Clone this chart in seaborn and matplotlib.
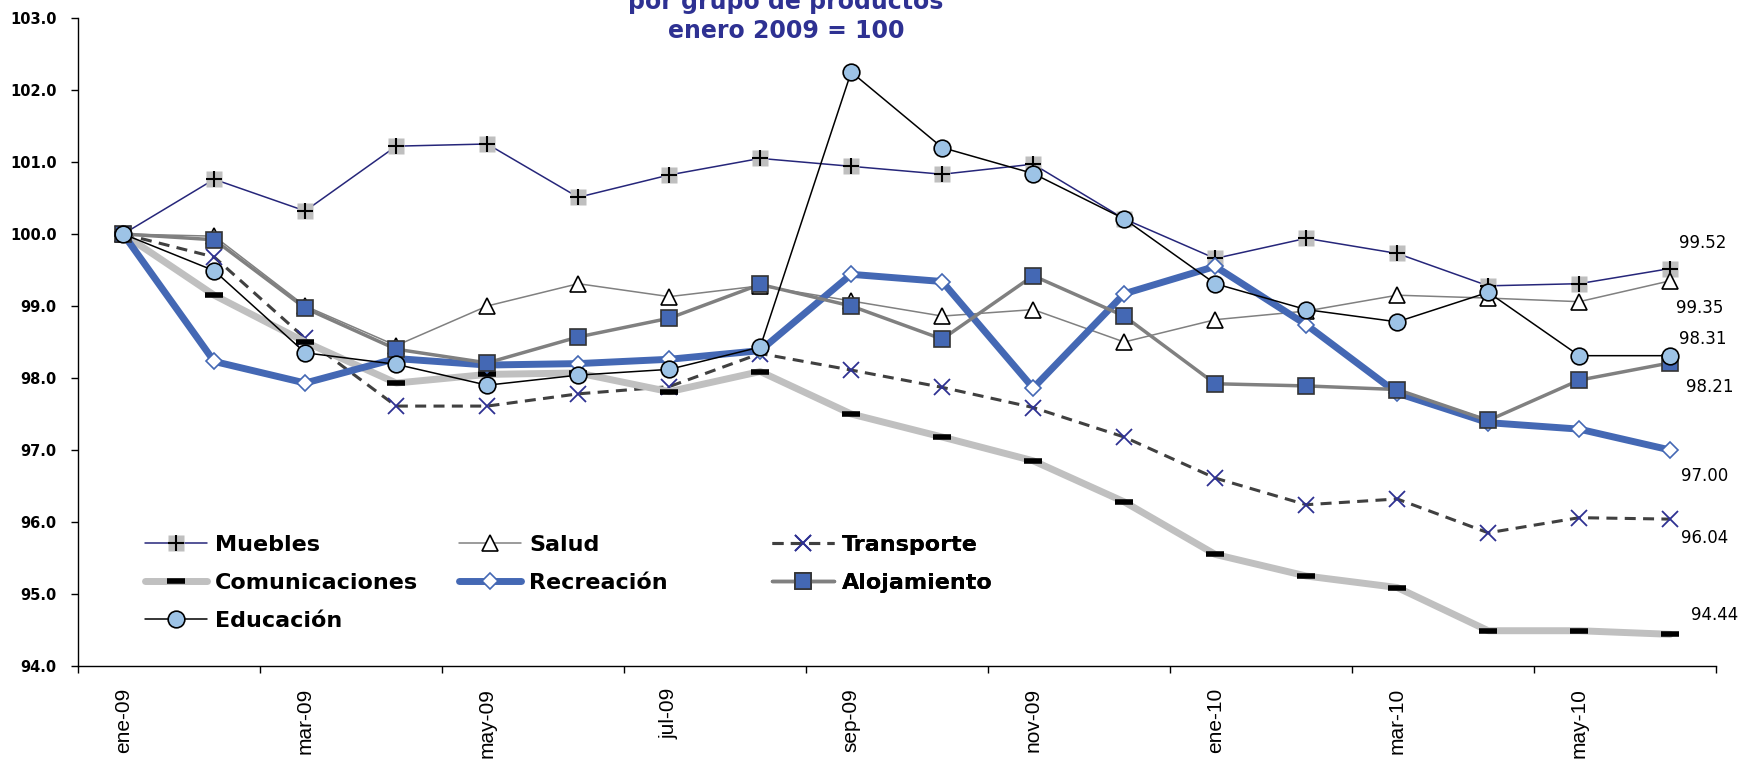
import matplotlib
matplotlib.use("Agg")
import matplotlib.pyplot as plt
import seaborn as sns
import numpy as np
from matplotlib.lines import Line2D
from matplotlib.legend_handler import HandlerTuple
from matplotlib.ticker import FormatStrFormatter

# datos: índice enero 2009 = 100
meses = ["ene-09", "feb-09", "mar-09", "abr-09", "may-09", "jun-09", "jul-09", "ago-09", "sep-09",
         "oct-09", "nov-09", "dic-09", "ene-10", "feb-10", "mar-10", "abr-10", "may-10", "jun-10"]

muebles = [100.00, 100.76, 100.32, 101.22, 101.25, 100.51, 100.82, 101.05, 100.94,
           100.83, 100.97, 100.21, 99.66, 99.94, 99.73, 99.28, 99.31, 99.52]
salud = [100.00, 99.97, 99.00, 98.45, 99.00, 99.31, 99.13, 99.28, 99.07,
         98.86, 98.95, 98.50, 98.81, 98.93, 99.15, 99.11, 99.06, 99.35]
transporte = [100.00, 99.68, 98.55, 97.61, 97.61, 97.78, 97.88, 98.34, 98.11,
              97.87, 97.59, 97.18, 96.61, 96.24, 96.32, 95.85, 96.06, 96.04]
comunicaciones = [100.00, 99.15, 98.50, 97.93, 98.05, 98.07, 97.81, 98.09, 97.50,
                  97.18, 96.85, 96.28, 95.55, 95.25, 95.09, 94.49, 94.49, 94.44]
recreacion = [100.00, 98.23, 97.93, 98.27, 98.18, 98.20, 98.26, 98.38, 99.44,
              99.34, 97.86, 99.17, 99.55, 98.74, 97.79, 97.38, 97.29, 97.00]
alojamiento = [100.00, 99.92, 98.97, 98.40, 98.21, 98.57, 98.83, 99.30, 99.00,
               98.54, 99.42, 98.86, 97.92, 97.89, 97.84, 97.41, 97.97, 98.21]
educacion = [100.00, 99.49, 98.35, 98.19, 97.90, 98.04, 98.12, 98.43, 102.25,
             101.20, 100.84, 100.21, 99.31, 98.95, 98.78, 99.19, 98.31, 98.31]

W, H = 1748, 764
sns.set_theme(style="white")
plt.rcParams["font.family"] = ["DejaVu Sans"]
plt.rcParams["text.color"] = "black"
plt.rcParams["xtick.color"] = "black"
plt.rcParams["ytick.color"] = "black"

NAVY = "#26267A"
BLUE = "#4468B4"
TITLE_BLUE = "#2E3192"

fig = plt.figure(figsize=(W / 100, H / 100), dpi=100)
ax = fig.add_axes([77.7 / W, 1 - 666 / H, (1715.7 - 77.7) / W, (666 - 18) / H])

pos = np.arange(len(meses))

# Muebles: cuadro gris con cruz negra encima
sns.lineplot(x=pos, y=muebles, ax=ax, color=NAVY, lw=1.1, marker="s", markersize=12,
             markerfacecolor="#BFBFBF", markeredgecolor="none")
sns.lineplot(x=pos, y=muebles, ax=ax, color="black", linestyle="", marker="+",
             markersize=11, markeredgecolor="black", markeredgewidth=1.5)
sns.lineplot(x=pos, y=salud, ax=ax, color="#808080", lw=1.1, marker="^", markersize=11,
             markerfacecolor="white", markeredgecolor="black", markeredgewidth=1.2)
sns.lineplot(x=pos, y=transporte, ax=ax, color="#404040", lw=2.2, linestyle=(0, (3.6, 2.4)),
             marker="x", markersize=11, markeredgecolor=TITLE_BLUE, markeredgewidth=1.3)
sns.lineplot(x=pos, y=comunicaciones, ax=ax, color="#C0C0C0", lw=5, marker="_", markersize=13,
             markeredgecolor="black", markeredgewidth=4)
sns.lineplot(x=pos, y=recreacion, ax=ax, color=BLUE, lw=5, marker="D", markersize=8.5,
             markerfacecolor="white", markeredgecolor=BLUE, markeredgewidth=1.2)
sns.lineplot(x=pos, y=alojamiento, ax=ax, color="#808080", lw=2.5, marker="s", markersize=12,
             markerfacecolor=BLUE, markeredgecolor="#333333", markeredgewidth=1.2)
sns.lineplot(x=pos, y=educacion, ax=ax, color="black", lw=1.1, marker="o", markersize=12,
             markerfacecolor="#9DC3E6", markeredgecolor="black", markeredgewidth=1.2)

# etiquetas del último valor (desplazamiento en píxeles)
finales = [(muebles, (9, 26)), (salud, (6, -27)), (educacion, (9, 17)), (alojamiento, (16, -24)),
           (recreacion, (11, -26)), (transporte, (11, -19)), (comunicaciones, (21, 19))]
for serie, off in finales:
    ax.annotate(f"{serie[-1]:.2f}", xy=(pos[-1], serie[-1]), xytext=off, textcoords="offset pixels",
                ha="left", va="center", fontsize=12, color="black")

ax.set_xlim(-0.5, len(meses) - 0.5)
ax.set_ylim(94, 103)
ax.set_xlabel("")
ax.set_ylabel("")
ax.set_yticks(np.arange(94, 104, 1))
ax.yaxis.set_major_formatter(FormatStrFormatter("%.1f"))
ax.tick_params(axis="y", length=5, width=1, pad=10, labelsize=10.5, left=True,
               color="black", labelcolor="black")
for t in ax.get_yticklabels():
    t.set_fontweight("bold")

ax.set_xticks(pos[::2])
ax.set_xticklabels(meses[::2], rotation=90, fontsize=15, family="Liberation Sans")
ax.set_xticks(np.arange(-0.5, len(meses), 2), minor=True)
ax.tick_params(axis="x", which="major", length=0, pad=16, labelcolor="black")
ax.tick_params(axis="x", which="minor", length=5, width=1, bottom=True, color="black")

for s in ["top", "right"]:
    ax.spines[s].set_visible(False)
for s in ["left", "bottom"]:
    ax.spines[s].set_color("black")
    ax.spines[s].set_linewidth(1.0)
ax.grid(False)

# leyenda en tres columnas
h_muebles = (Line2D([], [], color=NAVY, lw=1.1, marker="s", ms=12, mfc="#BFBFBF", mec="none"),
             Line2D([], [], ls="none", marker="+", ms=11, mew=1.5, color="black"))
h_salud = Line2D([], [], color="#808080", lw=1.1, marker="^", ms=11, mfc="white", mec="black", mew=1.2)
h_transp = Line2D([], [], color="#404040", lw=2.2, ls=(0, (3.6, 2.4)), marker="x", ms=11,
                  mec=TITLE_BLUE, mew=1.3)
h_comun = Line2D([], [], color="#C0C0C0", lw=5, marker="_", ms=13, mec="black", mew=4)
h_recre = Line2D([], [], color=BLUE, lw=5, marker="D", ms=8.5, mfc="white", mec=BLUE, mew=1.2)
h_aloja = Line2D([], [], color="#808080", lw=2.5, marker="s", ms=12, mfc=BLUE, mec="#333333", mew=1.2)
h_educ = Line2D([], [], color="black", lw=1.1, marker="o", ms=12, mfc="#9DC3E6", mec="black", mew=1.2)

columnas = [([h_muebles, h_comun, h_educ], ["Muebles", "Comunicaciones", "Educación"], 145),
            ([h_salud, h_recre], ["Salud", "Recreación"], 459),
            ([h_transp, h_aloja], ["Transporte", "Alojamiento"], 772)]
for handles, labels, x0 in columnas:
    leg = ax.legend(handles, labels, loc="upper left", bbox_to_anchor=(x0 / W, 1 - 535 / H),
                    bbox_transform=fig.transFigure, frameon=False, borderpad=0, borderaxespad=0,
                    handlelength=2.8, handletextpad=0.36, labelspacing=0.8,
                    prop=dict(family="DejaVu Sans", weight="bold", size=16),
                    labelcolor="black",
                    handler_map={tuple: HandlerTuple(ndivide=1, pad=0)})
    ax.add_artist(leg)

# título (recortado arriba como en el original)
fig.text(786 / W, 1 - 9 / H, "por grupo de productos", ha="center", va="baseline",
         fontsize=17, fontweight="bold", color=TITLE_BLUE)
fig.text(786 / W, 1 - 38 / H, "enero 2009 = 100", ha="center", va="baseline",
         fontsize=17, fontweight="bold", color=TITLE_BLUE)

fig.savefig("out.png", dpi=100)
